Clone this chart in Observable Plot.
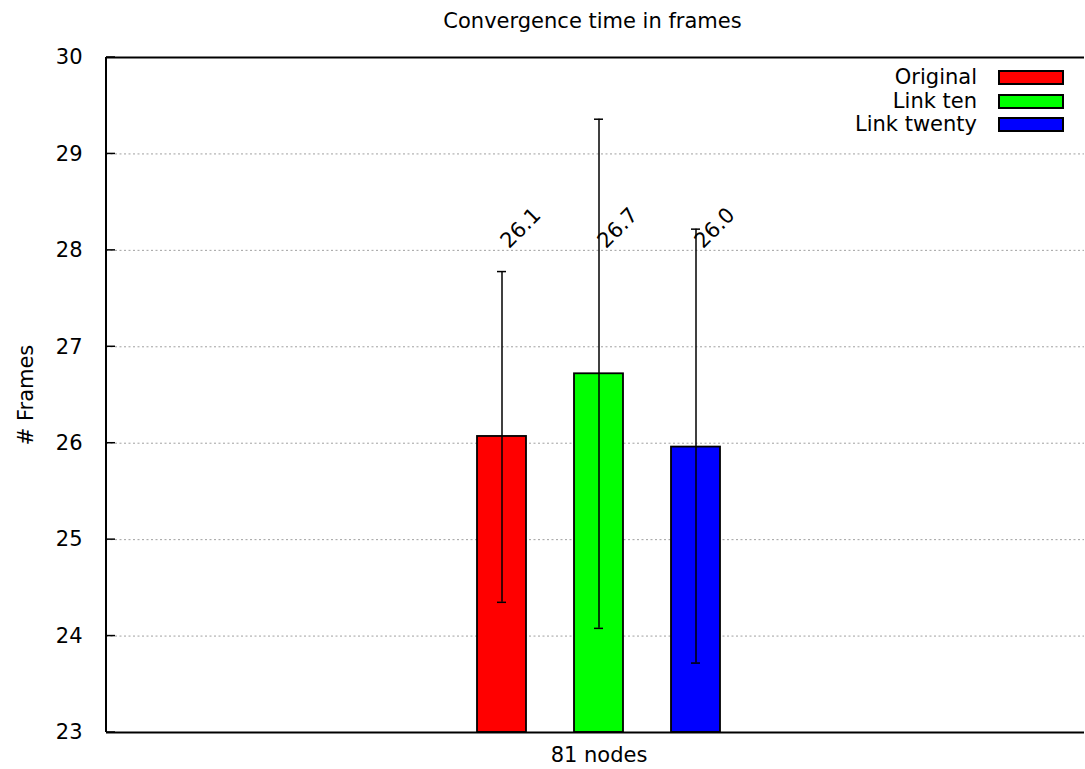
<!DOCTYPE html>
<html>
<head>
<meta charset="utf-8">
<script src="https://cdn.jsdelivr.net/npm/d3@7"></script>
<script src="https://cdn.jsdelivr.net/npm/@observablehq/plot@0.6"></script>
<style>
  html, body { margin: 0; padding: 0; background: #fff; }
  #wrap { position: relative; width: 1085px; height: 769px; font-family: "DejaVu Sans", sans-serif; }
  #legend { position: absolute; top: 66px; right: 21px; }
  .row { display: flex; align-items: center; justify-content: flex-end; height: 23.4px; }
  .row span { font-size: 21px; color: #000; line-height: 21px; }
  .sw { width: 66px; height: 15px; box-sizing: border-box; border: 2px solid #000; margin-left: 21px; }
</style>
</head>
<body>
<div id="wrap"></div>
<script>
const title = "Convergence time in frames";
const yLabel = "# Frames";
const group = "81 nodes";
const series = ["Original", "Link ten", "Link twenty"];
const means = [26.07, 26.72, 25.96];
const lower = [24.35, 24.08, 23.72];
const upper = [27.78, 29.36, 28.22];
const valueLabels = ["26.1", "26.7", "26.0"];
const colors = ["#ff0000", "#00ff00", "#0000ff"];
const yDomain = [23, 30];
const yTicks = [23, 24, 25, 26, 27, 28, 29, 30];
const gridTicks = [24, 25, 26, 27, 28, 29];
const labelLevel = 28;

const data = series.map((s, i) => ({
  series: s, mean: means[i], lo: lower[i], hi: upper[i], label: valueLabels[i]
}));

// left border and inward ticks, drawn from Plot's own y scale
function leftBorder(index, scales, values, dims) {
  const g = d3.create("svg:g").attr("stroke", "#000").attr("fill", "none");
  const x0 = dims.marginLeft;
  g.append("line")
    .attr("x1", x0).attr("x2", x0)
    .attr("y1", dims.marginTop).attr("y2", dims.height - dims.marginBottom)
    .attr("stroke-width", 2);
  for (const t of yTicks) {
    const yy = scales.y(t);
    g.append("line")
      .attr("x1", x0).attr("x2", x0 + 9)
      .attr("y1", yy).attr("y2", yy)
      .attr("stroke-width", 1.5);
  }
  return g.node();
}

const chart = Plot.plot({
  width: 1085,
  height: 769,
  marginLeft: 106,
  marginRight: 1,
  marginTop: 57,
  marginBottom: 37,
  style: { fontFamily: "DejaVu Sans, sans-serif", fontSize: "21px", background: "#fff", color: "#000" },
  x: { type: "band", domain: series, paddingInner: 0.4898, paddingOuter: 3.7347, align: 0.5055, axis: null },
  y: { domain: yDomain, ticks: yTicks, axis: null },
  color: { domain: series, range: colors },
  marks: [
    Plot.gridY(gridTicks, { stroke: "#a0a0a0", strokeOpacity: 1, strokeWidth: 1, strokeDasharray: "2,2.5" }),
    Plot.barY(data, { x: "series", y1: () => yDomain[0], y2: "mean", fill: "series", stroke: "#000", strokeWidth: 1.8 }),
    Plot.ruleX(data, { x: "series", y1: "lo", y2: "hi", stroke: "#000", strokeWidth: 1.5 }),
    Plot.tickY(data, { x: "series", y: "lo", stroke: "#000", strokeWidth: 1.5, insetLeft: 20, insetRight: 20 }),
    Plot.tickY(data, { x: "series", y: "hi", stroke: "#000", strokeWidth: 1.5, insetLeft: 20, insetRight: 20 }),
    Plot.text(data, { x: "series", y: () => labelLevel, text: "label", rotate: -45, textAnchor: "start", lineAnchor: "bottom", dx: 7, dy: -1, fontSize: 21, fill: "#000" }),
    Plot.axisY(yTicks, { anchor: "left", tickSize: 0, tickPadding: 24, fontSize: 21, tickFormat: d3.format("d") }),
    Plot.ruleY([yDomain[0], yDomain[1]], { stroke: "#000", strokeWidth: 2 }),
    leftBorder,
    Plot.text([group], { x: () => series[1], frameAnchor: "bottom", lineAnchor: "middle", dy: 23, fontSize: 21, fill: "#000" }),
    Plot.text([title], { text: d => d, frameAnchor: "top", lineAnchor: "middle", dy: -36, dx: -3, fontSize: 21, fill: "#000" }),
    Plot.text([yLabel], { text: d => d, frameAnchor: "left", textAnchor: "middle", lineAnchor: "middle", rotate: -90, dx: -80, fontSize: 21, fill: "#000" })
  ]
});

const wrap = document.getElementById("wrap");
wrap.appendChild(chart);

const legend = document.createElement("div");
legend.id = "legend";
series.forEach((s, i) => {
  const row = document.createElement("div");
  row.className = "row";
  const t = document.createElement("span");
  t.textContent = s;
  const sw = document.createElement("div");
  sw.className = "sw";
  sw.style.background = colors[i];
  row.appendChild(t);
  row.appendChild(sw);
  legend.appendChild(row);
});
wrap.appendChild(legend);
</script>
</body>
</html>
